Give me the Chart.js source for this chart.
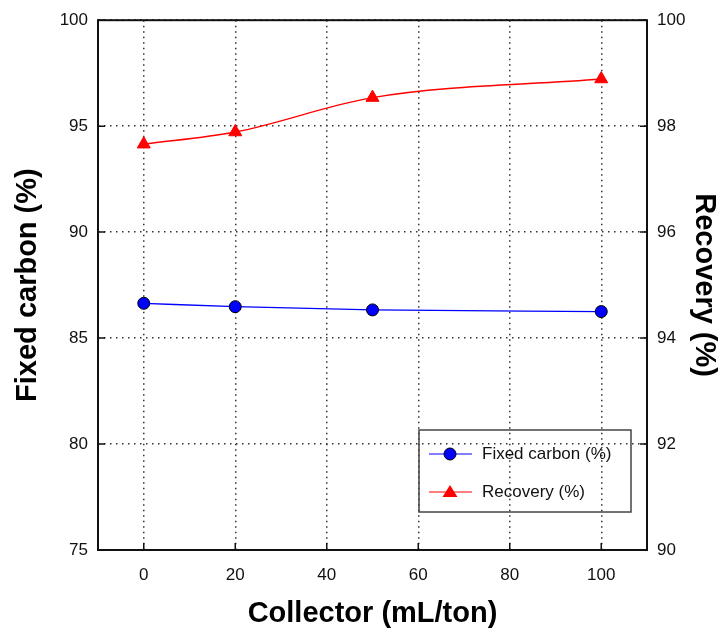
<!DOCTYPE html>
<html>
<head>
<meta charset="utf-8">
<script src="https://cdn.jsdelivr.net/npm/chart.js@4.4.1/dist/chart.umd.min.js"></script>
<style>
  html, body { margin: 0; padding: 0; background: #fff; }
  #wrap { width: 726px; height: 632px; }
</style>
</head>
<body>
<div id="wrap"><canvas id="chart" width="726" height="632"></canvas></div>
<script>
const COLLECTOR = [0, 20, 50, 100];
const FIXED_CARBON = [86.64, 86.48, 86.33, 86.25];
const RECOVERY = [97.66, 97.89, 98.54, 98.89];
const X_TICKS = [0, 20, 40, 60, 80, 100];
const LEFT_TICKS = [75, 80, 85, 90, 95, 100];
const RIGHT_TICKS = [90, 92, 94, 96, 98, 100];
const SERIES_NAMES = ['Fixed carbon (%)', 'Recovery (%)'];

const FONT = "'Liberation Sans', Arial, sans-serif";
const TICK_FONT = { family: FONT, size: 17 };
const TITLE_FONT = { family: FONT, size: 29, weight: 'bold' };

// frame, inward ticks and the boxed legend inside the plot
const framePlugin = {
  id: 'frame',
  afterDraw(chart) {
    const { ctx, chartArea: a, scales } = chart;
    ctx.save();
    ctx.strokeStyle = '#111';
    ctx.lineWidth = 1.5;
    const len = 7;
    ctx.beginPath();
    X_TICKS.forEach(v => {
      const px = scales.x.getPixelForValue(v);
      ctx.moveTo(px, a.bottom); ctx.lineTo(px, a.bottom - len);
    });
    LEFT_TICKS.forEach(v => {
      const py = scales.y.getPixelForValue(v);
      ctx.moveTo(a.left, py); ctx.lineTo(a.left + len, py);
    });
    RIGHT_TICKS.forEach(v => {
      const py = scales.y2.getPixelForValue(v);
      ctx.moveTo(a.right, py); ctx.lineTo(a.right - len, py);
    });
    ctx.stroke();
    ctx.lineWidth = 2;
    ctx.strokeRect(a.left, a.top, a.right - a.left, a.bottom - a.top);

    // legend
    const bx = a.right - 228, by = a.bottom - 120, bw = 212, bh = 82;
    ctx.strokeStyle = '#444';
    ctx.lineWidth = 1.5;
    ctx.strokeRect(bx, by, bw, bh);
    const rows = [
      { y: by + 24, color: '#0000ff', shape: 'circle' },
      { y: by + 62, color: '#ff0000', shape: 'triangle' }
    ];
    ctx.font = `17px ${FONT}`;
    ctx.textBaseline = 'middle';
    rows.forEach((r, i) => {
      ctx.strokeStyle = r.color;
      ctx.lineWidth = 1.2;
      ctx.beginPath();
      ctx.moveTo(bx + 10, r.y); ctx.lineTo(bx + 53, r.y);
      ctx.stroke();
      const cx = bx + 31;
      ctx.fillStyle = r.color;
      ctx.beginPath();
      if (r.shape === 'circle') {
        ctx.arc(cx, r.y, 6, 0, Math.PI * 2);
        ctx.fill();
        ctx.strokeStyle = '#000';
        ctx.lineWidth = 1;
        ctx.stroke();
      } else {
        ctx.moveTo(cx, r.y - 7); ctx.lineTo(cx + 7.5, r.y + 5); ctx.lineTo(cx - 7.5, r.y + 5);
        ctx.closePath();
        ctx.fill();
      }
      ctx.fillStyle = '#111';
      ctx.fillText(SERIES_NAMES[i], bx + 63, r.y);
    });
    ctx.restore();
  }
};

new Chart(document.getElementById('chart'), {
  type: 'line',
  data: {
    datasets: [
      {
        label: SERIES_NAMES[0],
        data: COLLECTOR.map((x, i) => ({ x, y: FIXED_CARBON[i] })),
        yAxisID: 'y',
        borderColor: '#0000ff', borderWidth: 1.3,
        pointStyle: 'circle', pointRadius: 6, pointBackgroundColor: '#0000ff',
        pointBorderColor: '#000', pointBorderWidth: 1,
        cubicInterpolationMode: 'monotone'
      },
      {
        label: SERIES_NAMES[1],
        data: COLLECTOR.map((x, i) => ({ x, y: RECOVERY[i] })),
        yAxisID: 'y2',
        borderColor: '#ff0000', borderWidth: 1.3,
        pointStyle: 'triangle', pointRadius: 7.5, pointBackgroundColor: '#ff0000',
        pointBorderColor: '#ff0000', pointBorderWidth: 1,
        cubicInterpolationMode: 'monotone'
      }
    ]
  },
  options: {
    responsive: false, animation: false, devicePixelRatio: 1,
    layout: { padding: { top: 17, left: 0, right: 0, bottom: 0 } },
    plugins: { legend: { display: false }, tooltip: { enabled: false } },
    scales: {
      x: {
        type: 'linear', min: -10, max: 110,
        afterBuildTicks: s => { s.ticks = X_TICKS.map(v => ({ value: v })); },
        afterFit: s => { s.height = 82; },
        grid: { color: '#333', lineWidth: 1.5, drawTicks: false },
        border: { display: false, dash: [1.5, 4] },
        ticks: { font: TICK_FONT, color: '#111', padding: 15, maxRotation: 0 },
        title: { display: true, text: 'Collector (mL/ton)', font: TITLE_FONT, color: '#000', padding: { top: 0, bottom: 1 } }
      },
      y: {
        position: 'left', min: 75, max: 100,
        afterBuildTicks: s => { s.ticks = LEFT_TICKS.map(v => ({ value: v })); },
        afterFit: s => { s.width = 98; },
        grid: { color: '#333', lineWidth: 1.5, drawTicks: false },
        border: { display: false, dash: [1.5, 4.5] },
        ticks: { font: TICK_FONT, color: '#111', padding: 10 },
        title: { display: true, text: 'Fixed carbon (%)', font: TITLE_FONT, color: '#000', padding: { top: 11, bottom: 0 } }
      },
      y2: {
        position: 'right', min: 90, max: 100,
        afterBuildTicks: s => { s.ticks = RIGHT_TICKS.map(v => ({ value: v })); },
        afterFit: s => { s.width = 79; },
        grid: { display: false, drawTicks: false },
        border: { display: false },
        ticks: { font: TICK_FONT, color: '#111', padding: 10 },
        title: { display: true, text: 'Recovery (%)', font: TITLE_FONT, color: '#000', padding: { top: 5, bottom: 0 } }
      }
    }
  },
  plugins: [framePlugin]
});
</script>
</body>
</html>
